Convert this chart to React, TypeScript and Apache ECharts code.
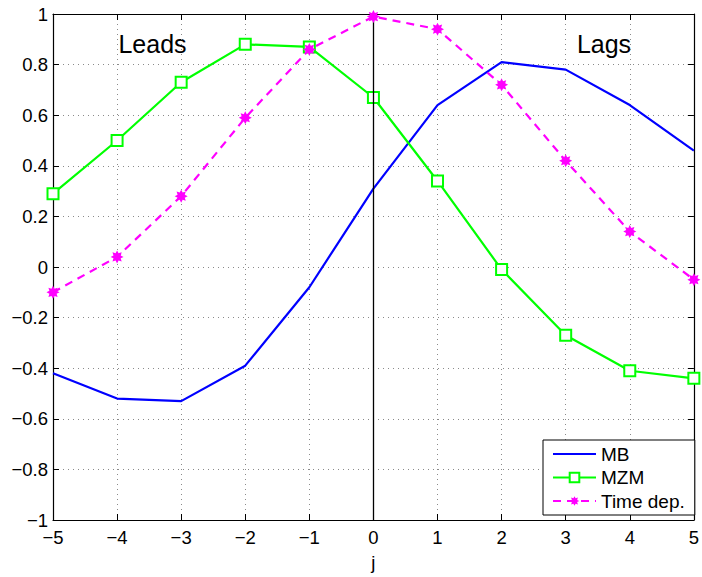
import React, { useEffect, useRef } from "react";
import * as echarts from "echarts";

// Lag index j
const lags = [-5, -4, -3, -2, -1, 0, 1, 2, 3, 4, 5];
// Cross-correlation values per model
const mbValues = [-0.42, -0.52, -0.53, -0.39, -0.08, 0.31, 0.64, 0.81, 0.78, 0.64, 0.46];
const mzmValues = [0.29, 0.5, 0.73, 0.88, 0.87, 0.67, 0.34, -0.01, -0.27, -0.41, -0.44];
const timeDepValues = [-0.1, 0.04, 0.28, 0.59, 0.86, 0.99, 0.94, 0.72, 0.42, 0.14, -0.05];
const seriesNames = ["MB", "MZM", "Time dep."];

// 8-pointed star used as an asterisk-like marker
function starPath(points: number, outer: number, inner: number): string {
  const parts: string[] = [];
  for (let i = 0; i < points * 2; i++) {
    const r = i % 2 === 0 ? outer : inner;
    const a = (Math.PI * i) / points - Math.PI / 2;
    const x = (50 + r * Math.cos(a)).toFixed(2);
    const y = (50 + r * Math.sin(a)).toFixed(2);
    parts.push((i === 0 ? "M" : "L") + x + " " + y);
  }
  return "path://" + parts.join(" ") + " Z";
}

const FONT = "'Liberation Sans', Arial, Helvetica, sans-serif";

const fmt = (v: number) => {
  const r = Math.round(v * 10) / 10;
  const s = Number.isInteger(r) ? String(r) : r.toFixed(1);
  return s.replace("-", "\u2212");
};

export default function App() {
  const ref = useRef<HTMLDivElement>(null);

  useEffect(() => {
    if (!ref.current) return;
    const chart = echarts.init(ref.current, undefined, { renderer: "svg" });
    const grid = { left: 53, right: 4, top: 14, bottom: 55 };
    const gridLine = { show: true, lineStyle: { color: "#8a8a8a", width: 1, type: [1, 4] as any } };
    const axisLine = { show: true, onZero: false, lineStyle: { color: "#000", width: 1.2 } };
    const tick = { show: true, inside: true, length: 6, lineStyle: { color: "#000", width: 1 } };

    chart.setOption({
      animation: false,
      backgroundColor: "#fff",
      grid,
      xAxis: [
        {
          type: "value",
          min: -5,
          max: 5,
          interval: 1,
          axisLine,
          axisTick: tick,
          splitLine: gridLine,
          axisLabel: {
            color: "#000",
            fontSize: 18.5,
            fontFamily: FONT,
            margin: 8,
            formatter: fmt,
          },
          name: "j",
          nameLocation: "middle",
          nameGap: 33,
          nameTextStyle: { color: "#000", fontSize: 18.5, fontFamily: FONT },
        },
        {
          type: "value",
          position: "top",
          min: -5,
          max: 5,
          interval: 1,
          axisLine,
          axisTick: tick,
          splitLine: { show: false },
          axisLabel: { show: false },
        },
      ],
      yAxis: [
        {
          type: "value",
          min: -1,
          max: 1,
          interval: 0.2,
          axisLine,
          axisTick: tick,
          splitLine: gridLine,
          axisLabel: {
            color: "#000",
            fontSize: 18.5,
            fontFamily: FONT,
            margin: 5,
            formatter: fmt,
          },
        },
        {
          type: "value",
          position: "right",
          min: -1,
          max: 1,
          interval: 0.2,
          axisLine,
          axisTick: tick,
          splitLine: { show: false },
          axisLabel: { show: false },
        },
      ],
      legend: {
        left: 543,
        top: 440,
        orient: "vertical",
        backgroundColor: "#fff",
        borderColor: "#000",
        borderWidth: 1,
        borderRadius: 0,
        padding: [3, 10, 3, 9],
        itemGap: 1.5,
        itemWidth: 43,
        itemHeight: 12,
        data: [
          // the solid line has no marker, so its legend symbol is hidden
          { name: seriesNames[0], itemStyle: { opacity: 0 } },
          seriesNames[1],
          seriesNames[2],
        ],
        textStyle: { color: "#000", fontSize: 19, fontFamily: FONT, lineHeight: 22 },
      },
      graphic: [
        {
          type: "text",
          x: 152.5,
          y: 44,
          style: {
            text: "Leads",
            fill: "#000",
            font: `25px ${FONT}`,
            textAlign: "center",
            textVerticalAlign: "middle",
          },
        },
        {
          type: "text",
          x: 604,
          y: 44,
          style: {
            text: "Lags",
            fill: "#000",
            font: `25px ${FONT}`,
            textAlign: "center",
            textVerticalAlign: "middle",
          },
        },
      ],
      series: [
        {
          name: seriesNames[0],
          type: "line",
          data: lags.map((x, i) => [x, mbValues[i]]),
          symbol: "none",
          lineStyle: { color: "#0000ff", width: 2.2 },
          itemStyle: { color: "#0000ff" },
          z: 3,
          markLine: {
            silent: true,
            symbol: "none",
            label: { show: false },
            lineStyle: { color: "#000", width: 1.3, type: "solid" },
            data: [{ xAxis: 0 }],
          },
        },
        {
          name: seriesNames[1],
          type: "line",
          data: lags.map((x, i) => [x, mzmValues[i]]),
          symbol: "rect",
          symbolSize: 11,
          lineStyle: { color: "#00ff00", width: 2.2 },
          itemStyle: { color: "#fff", borderColor: "#00ff00", borderWidth: 2 },
          z: 4,
        },
        {
          name: seriesNames[2],
          type: "line",
          data: lags.map((x, i) => [x, timeDepValues[i]]),
          symbol: starPath(8, 50, 30),
          symbolSize: 13,
          lineStyle: { color: "#ff00ff", width: 2.2, type: [8, 6] as any },
          itemStyle: { color: "#ff00ff" },
          z: 5,
        },
      ],
    });

    return () => chart.dispose();
  }, []);

  return (
    <div
      ref={ref}
      style={{ position: "fixed", left: 0, top: 0, width: 702, height: 577, background: "#fff" }}
    />
  );
}
